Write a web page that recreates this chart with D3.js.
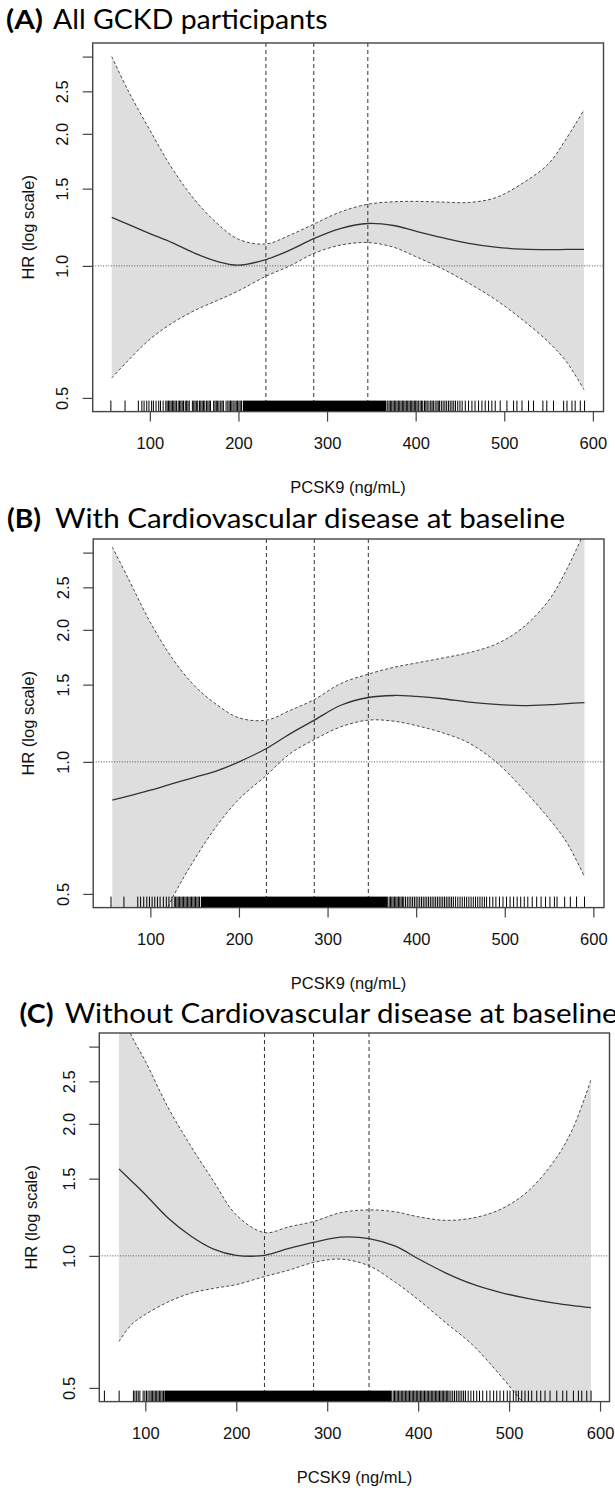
<!DOCTYPE html>
<html>
<head>
<meta charset="utf-8">
<script src="https://cdn.jsdelivr.net/npm/d3@7"></script>
<style>
  body { margin: 0; background: #fff; }
  svg { display: block; }
</style>
</head>
<body>
<svg id="chart" width="615" height="1488"></svg>
<script>
// PCSK9 concentrations (ng/mL) at which the spline hazard ratios are listed
const pcskGridAB = [57, 75, 100, 125, 150, 175, 200, 231, 258, 285, 315, 346, 375, 400, 430, 460, 490, 520, 550, 570, 590];
const pcskGridC  = [71, 85, 100, 125, 150, 175, 200, 231, 258, 285, 315, 346, 375, 400, 430, 460, 490, 520, 550, 570, 590];

// (A) all participants: HR with 95% confidence limits
const hrAll      = [1.29, 1.245, 1.185, 1.13, 1.07, 1.025, 1.004, 1.034, 1.086, 1.154, 1.216, 1.249, 1.236, 1.2, 1.16, 1.125, 1.103, 1.092, 1.089, 1.09, 1.091];
const hrAllUpper = [3.0, 2.52, 2.04, 1.67, 1.42, 1.255, 1.15, 1.122, 1.175, 1.245, 1.327, 1.382, 1.4, 1.403, 1.398, 1.395, 1.43, 1.54, 1.71, 1.95, 2.27];
const hrAllLower = [0.555, 0.607, 0.68, 0.74, 0.79, 0.832, 0.877, 0.947, 1.0, 1.067, 1.115, 1.13, 1.103, 1.05, 0.985, 0.913, 0.838, 0.755, 0.67, 0.605, 0.522];

// (B) cardiovascular disease at baseline
const hrCvd      = [0.818, 0.835, 0.862, 0.892, 0.922, 0.954, 1.0, 1.073, 1.16, 1.245, 1.346, 1.402, 1.417, 1.41, 1.393, 1.368, 1.352, 1.344, 1.35, 1.358, 1.365];
const hrCvdUpper = [3.09, 2.62, 2.08, 1.72, 1.49, 1.35, 1.26, 1.245, 1.311, 1.387, 1.509, 1.585, 1.643, 1.68, 1.725, 1.775, 1.855, 2.02, 2.34, 2.75, 3.35];
const hrCvdLower = [0.26, 0.31, 0.38, 0.49, 0.6, 0.715, 0.822, 0.932, 1.045, 1.124, 1.202, 1.245, 1.238, 1.21, 1.165, 1.103, 1.0, 0.87, 0.742, 0.655, 0.547];

// (C) no cardiovascular disease at baseline
const hrNoCvd      = [1.579, 1.48, 1.38, 1.22, 1.11, 1.036, 1.003, 1.003, 1.04, 1.073, 1.103, 1.095, 1.052, 0.985, 0.915, 0.862, 0.826, 0.8, 0.78, 0.77, 0.762];
const hrNoCvdUpper = [3.75, 3.17, 2.78, 2.18, 1.78, 1.48, 1.24, 1.13, 1.165, 1.198, 1.255, 1.273, 1.26, 1.228, 1.205, 1.22, 1.275, 1.4, 1.65, 1.95, 2.52];
const hrNoCvdLower = [0.638, 0.698, 0.735, 0.785, 0.822, 0.843, 0.86, 0.897, 0.928, 0.966, 0.983, 0.949, 0.87, 0.795, 0.705, 0.626, 0.535, 0.45, 0.38, 0.34, 0.3];

// Quartile cut-points of PCSK9 (ng/mL)
const quartileCuts = [231, 285, 346];

// Axis ticks
const xTickValues = [100, 200, 300, 400, 500, 600];
const yTickValues = [0.5, 1, 1.5, 2, 2.5, 3];
const yTickLabels = ["0.5", "1.0", "1.5", "2.0", "2.5", ""];

// Panel headings
const panelKeys = ["(A)", "(B)", "(C)"];
const panelTitles = ["All GCKD participants", "With Cardiovascular disease at baseline", "Without Cardiovascular disease at baseline"];
const xAxisTitle = "PCSK9 (ng/mL)";
const yAxisTitle = "HR (log scale)";

// Rug of observed PCSK9 values: single observations and fully covered stretches
const rugAll = [56, 72, 87, 91, 93.5, 96.5, 99, 102, 104, 107, 110, 112, 115, 118, 119.5, 121, 122.5, 124, 125.5, 127, 128.5, 130, 132, 133.5, 135, 136.5, 138, 140, 141.5, 143, 144.5, 148, 149.5, 151, 152.5, 154, 156, 157.5, 159, 160.5, 162, 164, 165.5, 167, 168.5, 172, 173.5, 175, 176.5, 178, 180, 181.5, 183, 186, 188, 189.5, 191, 192.5, 194, 196, 197.5, 199, 200.5, 202, 203.5,
  368.5, 370, 371.5, 373, 374.5, 376, 377.5, 379, 380.5, 382, 383.5, 385, 386.5, 388, 389.5, 391, 392.5, 394, 395.5, 397, 398.5, 400, 401.5, 403, 405, 406.5, 408, 410, 411.5, 413, 415, 417, 418.5, 420, 422, 424, 425.5, 427, 429, 431, 433, 435, 437, 439, 441, 443, 445, 447.5, 450, 452.5,
  456, 459.7, 463.5, 467, 471, 474.8, 478.5, 482.3, 486, 489.8, 495.4, 503, 510.5, 514.3, 520, 527.4, 533, 543.6, 548, 555.6, 567, 570.8, 576.4, 580, 585.8, 590.6];
const rugAllSolid = [[205, 367]];

const rugCvd = [55.6, 70.2, 85.8, 89, 92.5, 96, 99, 102, 105, 108, 111, 114.7, 118, 121, 124.4, 127, 128.5, 130, 131.5, 133, 134.5, 136, 137.5, 139, 140.5, 142, 143.5, 145, 146.5, 148, 149.5, 151, 152.5, 154, 155.5,
  369.5, 371, 372.5, 374, 375.5, 377, 378.5, 380, 381.5, 383, 384.5, 386, 388, 390, 392, 394, 396, 398, 400, 402, 404, 406, 408, 410, 412, 414, 416, 418, 420, 422, 424, 426, 428, 430, 432, 434, 436, 438, 440, 442, 444.5, 447, 449.5, 452, 454.5, 457, 459.5, 462, 464.5, 467, 469.5, 472, 474.5, 477, 479.5,
  483, 486.5, 490, 494, 498, 502, 506, 510, 514, 518, 522, 526, 531, 536, 541, 546, 551, 556, 559, 567.6, 574, 581, 590];
const rugCvdSolid = [[157, 368]];

const rugNoCvd = [55, 71.2, 86.9, 88.6, 90.5, 92.2, 94, 97.6, 99.5, 101.3, 103, 105, 106.5, 108, 109.5, 111, 112.5, 114, 115.5, 117, 118.5, 120,
  372.5, 374, 375.5, 377, 378.5, 380, 381.5, 383, 384.5, 386, 387.5, 389, 390.5, 392, 393.5, 395, 396.5, 398, 399.5, 401, 402.5, 404, 405.5, 407, 408.5, 410, 411.5, 413, 414.5, 416, 417.5, 419, 420.5, 422, 423.5, 425, 426.5, 428, 429.5, 431, 432.5, 434, 436, 438, 440, 442, 444, 446, 448, 450, 452, 455, 458, 461, 464.4, 467.5, 471, 475.4, 479, 483, 486.4, 490, 494, 498,
  501, 504.7, 507.6, 510.2, 513.9, 517.5, 521.2, 524.9, 530.4, 534.8, 539.5, 545, 552.4, 559, 563.4, 570.7, 576.2, 579.9, 585.4, 590.1];
const rugNoCvdSolid = [[121, 371]];

// Panel geometry (pixels) and x-axis extents
const panels = [
  { key: panelKeys[0], title: panelTitles[0], grid: pcskGridAB, hr: hrAll, up: hrAllUpper, lo: hrAllLower, rug: rugAll, rugSolid: rugAllSolid,
    titleY: 29.3, keyX: 6, keyLen: 37, titleX: 53, titleLen: 274.5,
    left: 92.7, right: 603.5, top: 43, bottom: 411.6, xDom: [35.5, 612], yTitleX: 33.5 },
  { key: panelKeys[1], title: panelTitles[1], grid: pcskGridAB, hr: hrCvd, up: hrCvdUpper, lo: hrCvdLower, rug: rugCvd, rugSolid: rugCvdSolid,
    titleY: 527.7, keyX: 7, keyLen: 34, titleX: 55, titleLen: 510,
    left: 93.2, right: 604, top: 539, bottom: 907.6, xDom: [35.5, 612], yTitleX: 34 },
  { key: panelKeys[2], title: panelTitles[2], grid: pcskGridC, hr: hrNoCvd, up: hrNoCvdUpper, lo: hrNoCvdLower, rug: rugNoCvd, rugSolid: rugNoCvdSolid,
    titleY: 1023.3, keyX: 19.6, keyLen: 34, titleX: 64.7, titleLen: 553,
    left: 99.3, right: 609.5, top: 1033, bottom: 1401.6, xDom: [49.4, 610.4], yTitleX: 37 }
];

const svg = d3.select("#chart");
const axisFont = "'Liberation Sans', Arial, sans-serif";
const titleFont = "Lato, 'Open Sans', sans-serif";
const yDomain = [Math.exp(-0.765), Math.exp(1.17)];

panels.forEach((p, i) => {
  const g = svg.append("g");
  const x = d3.scaleLinear().domain(p.xDom).range([p.left, p.right]);
  const y = d3.scaleLog().domain(yDomain).range([p.bottom, p.top]);

  const clipId = "clip" + i;
  svg.append("clipPath").attr("id", clipId)
    .append("rect").attr("x", p.left).attr("y", p.top)
    .attr("width", p.right - p.left).attr("height", p.bottom - p.top);

  const rows = p.grid.map((v, j) => ({ v, hr: p.hr[j], up: p.up[j], lo: p.lo[j] }));
  const curve = d3.curveCatmullRom.alpha(0.5);
  const plot = g.append("g").attr("clip-path", `url(#${clipId})`);

  // confidence band
  plot.append("path").datum(rows)
    .attr("d", d3.area().x(d => x(d.v)).y0(d => y(d.lo)).y1(d => y(d.up)).curve(curve))
    .attr("fill", "#dedede");

  // band limits
  ["up", "lo"].forEach(k => {
    plot.append("path").datum(rows)
      .attr("d", d3.line().x(d => x(d.v)).y(d => y(d[k])).curve(curve))
      .attr("fill", "none").attr("stroke", "#4a4a4a").attr("stroke-width", 1)
      .attr("stroke-dasharray", "3,2.2");
  });

  // quartile cut-points
  plot.selectAll("line.q").data(quartileCuts).enter().append("line")
    .attr("x1", d => x(d)).attr("x2", d => x(d))
    .attr("y1", p.top).attr("y2", p.bottom)
    .attr("stroke", "#333").attr("stroke-width", 1).attr("stroke-dasharray", "4,3");

  // reference line HR = 1
  plot.append("line")
    .attr("x1", p.left).attr("x2", p.right)
    .attr("y1", y(1)).attr("y2", y(1))
    .attr("stroke", "#555").attr("stroke-width", 1).attr("stroke-dasharray", "1,1.6");

  // spline estimate
  plot.append("path").datum(rows)
    .attr("d", d3.line().x(d => x(d.v)).y(d => y(d.hr)).curve(curve))
    .attr("fill", "none").attr("stroke", "#333").attr("stroke-width", 1.3);

  // rug
  const rugH = 11;
  plot.selectAll("rect.rs").data(p.rugSolid).enter().append("rect")
    .attr("x", d => x(d[0])).attr("width", d => x(d[1]) - x(d[0]))
    .attr("y", p.bottom - rugH).attr("height", rugH).attr("fill", "#000");
  plot.selectAll("line.r").data(p.rug).enter().append("line")
    .attr("x1", d => x(d)).attr("x2", d => x(d))
    .attr("y1", p.bottom - rugH).attr("y2", p.bottom)
    .attr("stroke", "#000").attr("stroke-width", 1);

  // frame
  g.append("rect").attr("x", p.left).attr("y", p.top)
    .attr("width", p.right - p.left).attr("height", p.bottom - p.top)
    .attr("fill", "none").attr("stroke", "#444").attr("stroke-width", 1.4);

  // x axis
  const xAxis = d3.axisBottom(x).tickValues(xTickValues).tickSize(10).tickPadding(0).tickFormat(d3.format("d"));
  const gx = g.append("g").attr("transform", `translate(0,${p.bottom})`).call(xAxis);
  gx.select(".domain").remove();
  gx.selectAll(".tick line").attr("stroke", "#444").attr("stroke-width", 1.2);
  gx.selectAll(".tick text").attr("y", 37.5).attr("dy", null)
    .attr("font-family", axisFont).attr("font-size", 16.5).attr("fill", "#111");

  // y axis (labels rotated, as in base R graphics)
  const yAxis = d3.axisLeft(y).tickValues(yTickValues).tickSize(10).tickFormat((d, j) => yTickLabels[j]);
  const gy = g.append("g").attr("transform", `translate(${p.left},0)`).call(yAxis);
  gy.select(".domain").remove();
  gy.selectAll(".tick line").attr("stroke", "#444").attr("stroke-width", 1.2);
  gy.selectAll(".tick text")
    .attr("x", null).attr("dy", null)
    .attr("transform", "translate(-24.5,0) rotate(-90)")
    .attr("text-anchor", "middle")
    .attr("font-family", axisFont).attr("font-size", 16.5).attr("fill", "#111");

  // axis titles
  g.append("text").attr("x", (p.left + p.right) / 2).attr("y", p.bottom + 81)
    .attr("text-anchor", "middle").attr("font-family", axisFont).attr("font-size", 16.5)
    .attr("fill", "#111").text(xAxisTitle);
  g.append("text")
    .attr("transform", `translate(${p.yTitleX},${(p.top + p.bottom) / 2}) rotate(-90)`)
    .attr("text-anchor", "middle").attr("font-family", axisFont).attr("font-size", 16.5)
    .attr("fill", "#111").text(yAxisTitle);

  // panel heading
  g.append("text").attr("x", p.keyX).attr("y", p.titleY)
    .attr("font-family", titleFont).attr("font-weight", 700).attr("font-size", 27)
    .attr("textLength", p.keyLen).attr("lengthAdjust", "spacingAndGlyphs")
    .attr("fill", "#000").text(p.key);
  g.append("text").attr("x", p.titleX).attr("y", p.titleY)
    .attr("font-family", titleFont).attr("font-size", 27)
    .attr("textLength", p.titleLen).attr("lengthAdjust", "spacingAndGlyphs")
    .attr("fill", "#000").text(p.title);
});
</script>
</body>
</html>
